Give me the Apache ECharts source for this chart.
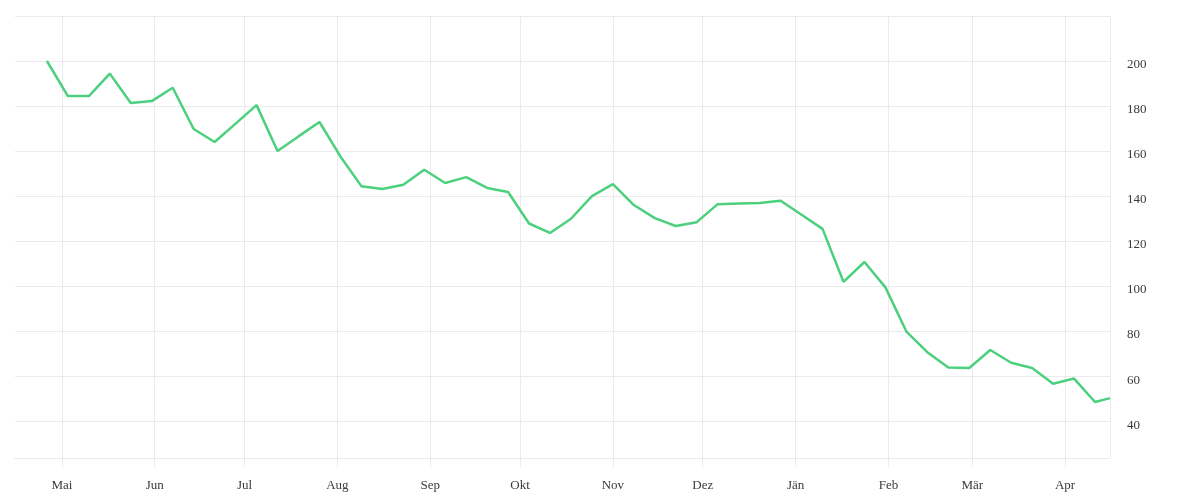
<!DOCTYPE html>
<html>
<head>
<meta charset="utf-8">
<script src="https://cdn.jsdelivr.net/npm/echarts@6/dist/echarts.min.js"></script>
<style>
html,body{margin:0;padding:0;background:#fff;}
#chart{width:1200px;height:500px;}
</style>
</head>
<body>
<div id="chart"></div>
<script>
const dates = [
  '2022-04-26','2022-05-03','2022-05-10','2022-05-17','2022-05-24','2022-05-31',
  '2022-06-07','2022-06-14','2022-06-21','2022-06-28',
  '2022-07-05','2022-07-12','2022-07-19','2022-07-26',
  '2022-08-02','2022-08-09','2022-08-16','2022-08-23','2022-08-30',
  '2022-09-06','2022-09-13','2022-09-20','2022-09-27',
  '2022-10-04','2022-10-11','2022-10-18','2022-10-25',
  '2022-11-01','2022-11-08','2022-11-15','2022-11-22','2022-11-29',
  '2022-12-06','2022-12-13','2022-12-20','2022-12-27',
  '2023-01-03','2023-01-10','2023-01-17','2023-01-24','2023-01-31',
  '2023-02-07','2023-02-14','2023-02-21','2023-02-28',
  '2023-03-07','2023-03-14','2023-03-21','2023-03-28',
  '2023-04-04','2023-04-11','2023-04-16'
];
const values = [
  200, 184.4, 184.4, 194.4, 181.3, 182.2,
  188.1, 169.8, 164.0, 172.2,
  180.4, 160.0, 166.5, 172.9,
  157.6, 144.4, 143.1, 145.0, 151.7,
  145.8, 148.4, 143.6, 141.8,
  127.8, 123.6, 129.9, 140.0,
  145.3, 136.0, 130.2, 126.7, 128.4,
  136.4, 136.7, 136.9, 137.9,
  131.7, 125.4, 101.9, 110.7, 99.4,
  79.8, 70.6, 63.8, 63.6,
  71.6, 65.9, 63.6, 56.6,
  58.9, 48.5, 50.2
];
const monthLabels = ['Jän','Feb','Mär','Apr','Mai','Jun','Jul','Aug','Sep','Okt','Nov','Dez'];
const yTickValues = [40, 60, 80, 100, 120, 140, 160, 180, 200];
const xRange = ['2022-04-15', '2023-04-16'];
const yRange = [23.6, 220];

const gridColor = '#ebebeb';
// first vertical split line (at the axis minimum) is not shown in the reference
const vLineColors = ['#ffffff'];
for (let i = 0; i < 30; i++) vLineColors.push(gridColor);

const chart = echarts.init(document.getElementById('chart'), null, {renderer: 'canvas'});
const font = 'Liberation Serif';
chart.setOption({
  animation: false,
  backgroundColor: '#ffffff',
  grid: {left: 14, right: 90, top: 16, bottom: 42, containLabel: false},
  xAxis: {
    type: 'time',
    min: xRange[0],
    max: xRange[1],
    splitNumber: 12,
    axisLine: {show: false},
    axisTick: {show: true, length: 9, lineStyle: {color: gridColor, width: 1}},
    splitLine: {show: true, lineStyle: {color: vLineColors, width: 1}},
    axisLabel: {
      fontFamily: font, fontSize: 13, color: '#3a3a3a', margin: 21,
      hideOverlap: false,
      formatter: function (v) { return monthLabels[new Date(v).getMonth()]; }
    }
  },
  yAxis: {
    type: 'value',
    position: 'right',
    min: yRange[0],
    max: yRange[1],
    splitNumber: 10,
    axisLine: {show: true, lineStyle: {color: gridColor, width: 1}},
    axisTick: {show: false},
    splitLine: {show: true, lineStyle: {color: gridColor, width: 1}},
    axisLabel: {
      fontFamily: font, fontSize: 13, color: '#3a3a3a', margin: 17,
      verticalAlign: 'top', lineHeight: 8,
      showMinLabel: true, showMaxLabel: true,
      formatter: function (v) { return yTickValues.indexOf(Math.round(v * 10) / 10) >= 0 ? String(v) : ''; }
    }
  },
  series: [{
    type: 'line',
    data: dates.map(function (d, i) { return [d, values[i]]; }),
    showSymbol: false,
    symbol: 'none',
    lineStyle: {color: '#4cd07d', width: 2.5},
    itemStyle: {color: '#4cd07d'}
  }]
});
</script>
</body>
</html>
